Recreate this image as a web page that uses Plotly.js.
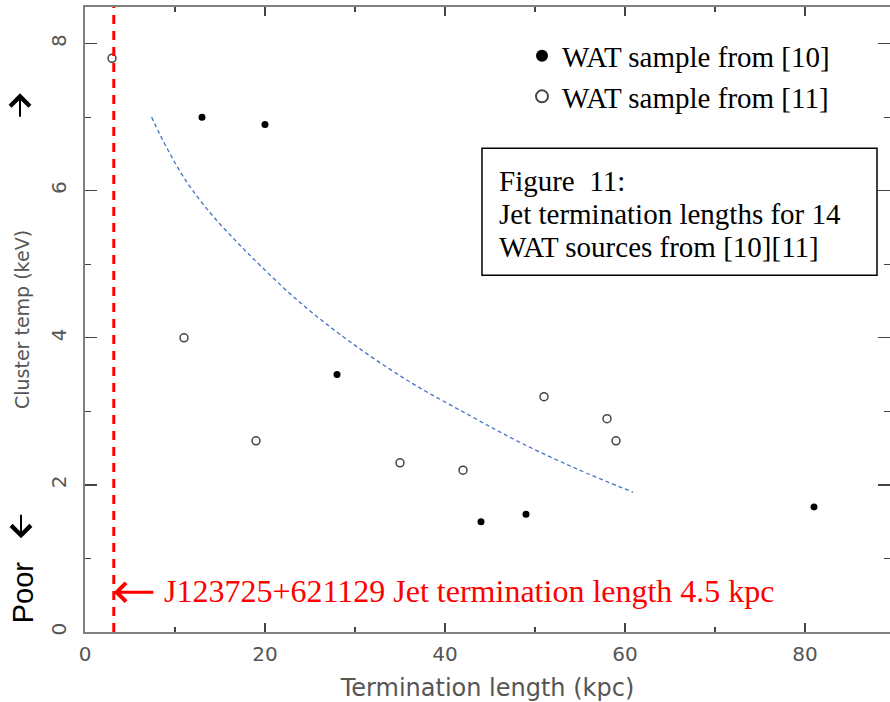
<!DOCTYPE html>
<html>
<head>
<meta charset="utf-8">
<script src="https://cdn.plot.ly/plotly-3.0.1.min.js"></script>
<style>html,body{margin:0;padding:0;background:#fff;}#chart{width:890px;height:702px;}</style>
</head>
<body>
<div id="chart"></div>
<script>
// ---- data ----
const filledName = "WAT sample from [10]";
const openName = "WAT sample from [11]";
const xFilled = [13, 20, 28, 44, 49, 81];
const yFilled = [7.0, 6.9, 3.5, 1.5, 1.6, 1.7];
const xOpen = [3, 11, 19, 35, 42, 51, 58, 59];
const yOpen = [7.8, 4.0, 2.6, 2.3, 2.2, 3.2, 2.9, 2.6];
const curveX = [7.4, 9.1, 11.3, 13.9, 16.5, 18.5, 23.7, 29.4, 36.1, 42.8, 48.3, 54.6, 60.9];
const curveY = [7.0, 6.58, 6.12, 5.70, 5.35, 5.10, 4.50, 3.95, 3.40, 2.94, 2.58, 2.22, 1.90];
const jetLengthX = 3.2;      // position of the red dashed line
const jetArrowY = 0.54;
const jetLabel = "J123725+621129 Jet termination length 4.5 kpc";
const boxLines = ["Figure\u00a0\u00a011:", "Jet termination lengths for 14", "WAT sources from [10][11]"];
const xTitle = "Termination length (kpc)";
const yTitle = "Cluster temp (keV)";
const xTickVals = [0, 20, 40, 60, 80];
const yTickVals = [0, 2, 4, 6, 8];

// ---- layout helpers (pixel -> paper) ----
const L = 85, R = 890, T = 6.7, B = 631.7;
const W = R - L, H = B - T;
const px = p => (p - L) / W;
const py = p => (B - p) / H;

const tickFont = {family: "DejaVu Sans", size: 20, color: "#555"};

const traces = [
  {x: curveX, y: curveY, mode: "lines", showlegend: false, hoverinfo: "skip",
   line: {color: "#4472C4", width: 1.3, dash: "4px,3px", shape: "spline"}},
  {x: xFilled, y: yFilled, mode: "markers", name: filledName,
   marker: {symbol: "circle", size: 7, color: "#000"}},
  {x: xOpen, y: yOpen, mode: "markers", name: openName,
   marker: {symbol: "circle-open", size: 8, color: "#444", line: {width: 1.5, color: "#444"}}}
];

const annotations = [
  // red arrow to the jet line
  {xref: "x", yref: "y", x: jetLengthX, y: jetArrowY, ax: 41, ay: 0, text: "",
   showarrow: true, arrowhead: 4, arrowsize: 1.2, arrowwidth: 3, arrowcolor: "#FF0000"},
  {xref: "paper", yref: "y", x: px(162), y: jetArrowY, xanchor: "left", yanchor: "middle",
   text: jetLabel, showarrow: false, yshift: 1,
   font: {family: "Liberation Serif", size: 32, color: "#FF0000"}},
  // left side arrows and "Poor"
  {xref: "paper", yref: "paper", x: px(20), y: py(93), ax: 0, ay: 25, text: "",
   showarrow: true, arrowhead: 4, arrowsize: 1.9, arrowwidth: 2, arrowcolor: "#000"},
  {xref: "paper", yref: "paper", x: px(21), y: py(538), ax: 0, ay: -25, text: "",
   showarrow: true, arrowhead: 4, arrowsize: 1.9, arrowwidth: 2, arrowcolor: "#000"},
  {xref: "paper", yref: "paper", x: px(23), y: py(592), text: "Poor", textangle: -90,
   showarrow: false, xanchor: "center", yanchor: "middle",
   font: {family: "Liberation Sans", size: 29, color: "#000"}}
];
const boxY = [181, 214, 247];
boxLines.forEach((t, i) => annotations.push({
  xref: "paper", yref: "paper", x: px(497), y: py(boxY[i]), xanchor: "left", yanchor: "middle",
  text: t, showarrow: false, font: {family: "Liberation Serif", size: 29, color: "#000"}
}));

const layout = {
  width: 890, height: 702,
  margin: {l: L, r: 890 - R, t: T, b: 702 - B, pad: 0},
  paper_bgcolor: "#fff", plot_bgcolor: "#fff",
  showlegend: true,
  legend: {x: px(522), y: py(30), xanchor: "left", yanchor: "top", bgcolor: "rgba(0,0,0,0)",
           font: {family: "Liberation Serif", size: 29, color: "#000"}, itemsizing: "constant",
           tracegroupgap: 0},
  xaxis: {range: [0, W / 9], tickvals: xTickVals, ticktext: xTickVals.map(String),
          ticks: "inside", ticklen: 9, tickwidth: 1.2, tickcolor: "#444",
          showline: true, linecolor: "#808080", linewidth: 2, mirror: "ticks",
          showgrid: false, zeroline: false, tickfont: tickFont, ticklabelstandoff: 3,
          minor: {dtick: 10, tick0: 0, ticks: "inside", ticklen: 5, tickcolor: "#444", showgrid: false},
          title: {text: xTitle, font: {family: "DejaVu Sans", size: 24, color: "#555"}, standoff: 15}},
  yaxis: {range: [0, H / 73.55], tickvals: yTickVals, ticktext: yTickVals.map(String),
          ticks: "inside", ticklen: 12, tickwidth: 1.2, tickcolor: "#444", tickangle: -90,
          showline: true, linecolor: "#808080", linewidth: 2, mirror: "ticks",
          showgrid: false, zeroline: false, tickfont: tickFont, ticklabelstandoff: 9,
          minor: {dtick: 1, tick0: 0, ticks: "inside", ticklen: 6, tickcolor: "#444", showgrid: false},
          title: {text: yTitle, font: {family: "DejaVu Sans", size: 19, color: "#555"}, standoff: 12}},
  shapes: [
    {type: "line", xref: "x", yref: "paper", x0: jetLengthX, x1: jetLengthX, y0: 0, y1: 1,
     line: {color: "#FF0000", width: 3, dash: "9px,7px"}},
    {type: "rect", xref: "paper", yref: "paper", x0: px(482), x1: px(877), y0: py(275), y1: py(148),
     line: {color: "#000", width: 1.5}, fillcolor: "rgba(0,0,0,0)"}
  ],
  annotations: annotations
};

Plotly.newPlot("chart", traces, layout, {displayModeBar: false, staticPlot: true});
</script>
</body>
</html>
